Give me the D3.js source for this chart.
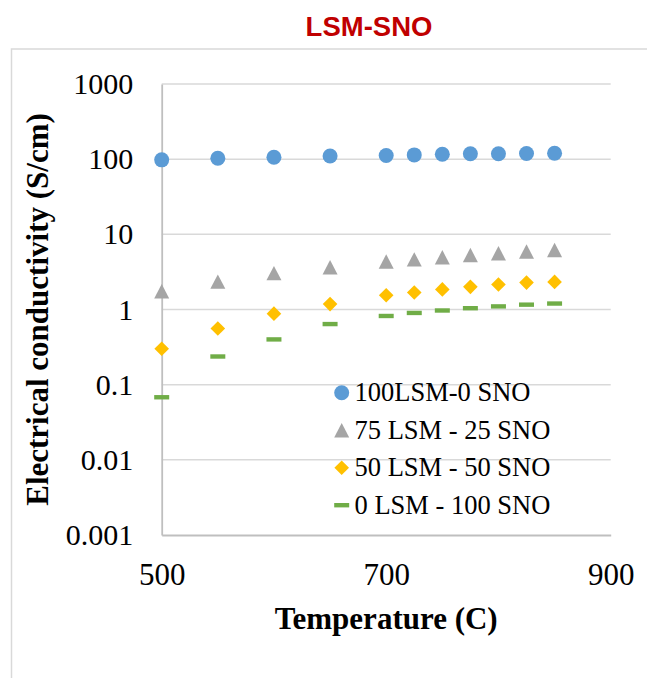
<!DOCTYPE html>
<html>
<head>
<meta charset="utf-8">
<script src="https://cdn.jsdelivr.net/npm/d3@7"></script>
<style>
  html, body { margin: 0; padding: 0; background: #fff; }
  svg { display: block; }
</style>
</head>
<body>
<svg id="chart" width="647" height="678"></svg>
<script>
// ---- data ----
const temperatures = [500, 550, 600, 650, 700, 725, 750, 775, 800, 825, 850];
const lsm100 = [98, 103, 106, 110, 112, 114, 116, 118, 118, 119, 120];
const lsm75  = [1.75, 2.35, 3.05, 3.65, 4.35, 4.65, 4.95, 5.3, 5.6, 5.9, 6.2];
const lsm50  = [0.30, 0.56, 0.88, 1.18, 1.55, 1.68, 1.85, 2.0, 2.15, 2.28, 2.33];
const lsm0   = [0.068, 0.237, 0.40, 0.64, 0.82, 0.90, 0.97, 1.04, 1.10, 1.16, 1.20];
const seriesNames = ["100LSM-0 SNO", "75 LSM - 25 SNO", "50 LSM - 50 SNO", "0 LSM - 100 SNO"];
const yTickValues = [0.001, 0.01, 0.1, 1, 10, 100, 1000];
const yTickLabels = ["0.001", "0.01", "0.1", "1", "10", "100", "1000"];
const xTickValues = [500, 700, 900];
const xTickLabels = ["500", "700", "900"];
const chartTitle = "LSM-SNO";
const xTitle = "Temperature (C)";
const yTitle = "Electrical conductivity (S/cm)";

// ---- layout ----
const svg = d3.select("#chart");
const L = 161.7, R = 610.7, T = 84, B = 535;
const x = d3.scaleLinear().domain([500, 900]).range([L, R]);
const y = d3.scaleLog().domain([0.001, 1000]).range([B, T]);

const serif = "Liberation Serif";

// outer chart border
svg.append("rect").attr("x", 11.5).attr("y", 49).attr("width", 660).attr("height", 660)
  .attr("fill", "none").attr("stroke", "#d9d9d9").attr("stroke-width", 1.5);

// title
svg.append("text").attr("x", 369).attr("y", 36).attr("text-anchor", "middle")
  .style("font-family", "Liberation Sans").style("font-weight", "bold")
  .style("font-size", "27.5px").attr("fill", "#C00000").text(chartTitle);

// gridlines
svg.append("g").selectAll("line").data(yTickValues.slice(1)).join("line")
  .attr("x1", L).attr("x2", R).attr("y1", d => y(d)).attr("y2", d => y(d))
  .attr("stroke", "#d9d9d9").attr("stroke-width", 1.5);

// y axis
const yAxis = d3.axisLeft(y).tickValues(yTickValues)
  .tickFormat((d, i) => yTickLabels[i]).tickSize(0).tickPadding(28.5);
const gy = svg.append("g").attr("transform", `translate(${L},0)`).call(yAxis);
gy.attr("font-family", null).attr("font-size", null);
gy.select(".domain").attr("stroke", "#bfbfbf").attr("stroke-width", 1.8);
gy.selectAll("text").style("font-family", serif).style("font-size", "30px").attr("fill", "#000");

// x axis
const xAxis = d3.axisBottom(x).tickValues(xTickValues)
  .tickFormat((d, i) => xTickLabels[i]).tickSize(0).tickPadding(27.5);
const gx = svg.append("g").attr("transform", `translate(0,${B})`).call(xAxis);
gx.attr("font-family", null).attr("font-size", null);
gx.select(".domain").attr("stroke", "#bfbfbf").attr("stroke-width", 1.8);
gx.selectAll("text").style("font-family", serif).style("font-size", "31px").attr("fill", "#000");

// axis titles
svg.append("text").attr("x", (L + R) / 2).attr("y", 629).attr("text-anchor", "middle")
  .style("font-family", serif).style("font-weight", "bold").style("font-size", "31px")
  .attr("fill", "#000").text(xTitle);
svg.append("text").attr("transform", `translate(48,${(T + B) / 2}) rotate(-90)`)
  .attr("text-anchor", "middle")
  .style("font-family", serif).style("font-weight", "bold").style("font-size", "31px")
  .attr("fill", "#000").text(yTitle);

// marker shapes
const shapes = {
  circle: "M7.5,0A7.5,7.5 0 1,1 -7.5,0A7.5,7.5 0 1,1 7.5,0Z",
  triangle: "M0,-7.2L7.5,7.2L-7.5,7.2Z",
  diamond: "M0,-7.3L7.3,0L0,7.3L-7.3,0Z",
  dash: "M-7.5,-2.2H7.5V2.2H-7.5Z"
};
const series = [
  { name: seriesNames[0], values: lsm100, shape: "circle", color: "#5B9BD5" },
  { name: seriesNames[1], values: lsm75, shape: "triangle", color: "#A5A5A5" },
  { name: seriesNames[2], values: lsm50, shape: "diamond", color: "#FFC000" },
  { name: seriesNames[3], values: lsm0, shape: "dash", color: "#70AD47" }
];

series.forEach(s => {
  svg.append("g").selectAll("path").data(temperatures.map((t, i) => [t, s.values[i]])).join("path")
    .attr("d", shapes[s.shape])
    .attr("transform", d => `translate(${x(d[0])},${y(d[1])})`)
    .attr("fill", s.color);
});

// legend
const lg = svg.append("g");
series.forEach((s, i) => {
  const cy = 392.7 + i * 37.5;
  lg.append("path").attr("d", shapes[s.shape])
    .attr("transform", `translate(341.7,${cy})`).attr("fill", s.color);
  lg.append("text").attr("x", 354.5).attr("y", cy + 8.5)
    .style("font-family", serif).style("font-size", "26.5px").attr("fill", "#000").text(s.name);
});
</script>
</body>
</html>
